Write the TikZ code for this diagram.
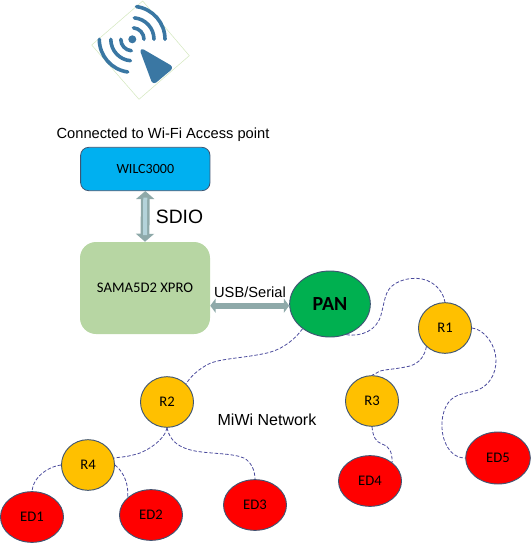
\documentclass[tikz,border=0pt]{standalone}
\usepackage{fontspec}
\setmainfont{Liberation Sans}
\newfontfamily\carl{Carlito}
\usetikzlibrary{arrows.meta,shapes.geometric}
\definecolor{wifi}{HTML}{3A77A3}
\definecolor{frameg}{HTML}{D5E8C0}
\definecolor{blueb}{HTML}{00B0F0}
\definecolor{greenb}{HTML}{B7D6A3}
\definecolor{pang}{HTML}{00B050}
\definecolor{amber}{HTML}{FFC000}
\definecolor{edge}{HTML}{3F5573}
\definecolor{net}{HTML}{4A4A9C}
\definecolor{arrowo}{HTML}{8EA9A9}
\definecolor{arrowi}{HTML}{B4D3DA}
\tikzset{x=0.75pt,y=-0.75pt,
 box/.style={draw=edge,line width=0.6pt,rounded corners=6pt,inner sep=0pt,font=\carl\fontsize{10.5pt}{12pt}\selectfont},
 soft/.style={fill=greenb,rounded corners=12pt,inner sep=0pt,font=\carl\fontsize{11pt}{13pt}\selectfont},
 router/.style={ellipse,draw=edge,line width=0.7pt,fill=amber,inner sep=0pt,minimum width=39.75pt,minimum height=38pt,font=\carl\fontsize{11pt}{13pt}\selectfont},
 enddev/.style={ellipse,draw=edge,line width=0.7pt,fill=red,inner sep=0pt,minimum width=47.25pt,minimum height=38pt,font=\carl\fontsize{11pt}{13pt}\selectfont},
 link/.style={draw=net,line width=0.6pt,dash pattern=on 2.6pt off 1.4pt},
 lab/.style={inner sep=0pt,font=\fontsize{11pt}{13pt}\selectfont},
 wave/.style={draw=wifi,line width=2.7pt,line cap=round},
 busouter/.style={draw=arrowo,line width=6.6pt,{Triangle[width=13.5pt,length=6pt]}-{Triangle[width=13.5pt,length=6pt]}},
 businner/.style={draw=arrowi,line width=3pt,shorten <=5pt,shorten >=5pt},
 usbbus/.style={draw=arrowo,line width=4.6pt,{Triangle[width=10.5pt,length=4pt]}-{Triangle[width=10.5pt,length=4pt]}},
}
\begin{document}
\begin{tikzpicture}
\useasboundingbox (0,0) rectangle (531,543);
% Wi-Fi icon
\draw[frameg,line width=0.4pt] (142.7,1) -- (189.3,55.7) -- (139,99.3) -- (91.7,45) -- cycle;
\fill[wifi] (132.3,39.3) circle[radius=4];
\draw[wave] (165,39.3) arc[start angle=0,end angle=-82,radius=33];
\draw[wave] (154,39.3) arc[start angle=0,end angle=-85,radius=21.5];
\draw[wave] (144,39.3) arc[start angle=0,end angle=-85,radius=11.5];
\draw[wave] (99.3,39.3) arc[start angle=180,end angle=98,radius=33];
\draw[wave] (110.8,39.3) arc[start angle=180,end angle=95,radius=21.5];
\draw[wave] (120.8,39.3) arc[start angle=180,end angle=95,radius=11.5];
\fill[wifi,draw=wifi,line width=2pt,line join=round,rounded corners=2pt] (141,49.5) -- (172,67.5) -- (153.5,83) -- cycle;
% blocks
\node[box,fill=blueb,minimum width=97pt,minimum height=32.5pt] (wilc) at (145.3,169) {WILC3000};
\node[soft,minimum width=97.5pt,minimum height=69pt] (sama) at (145,288) {SAMA5D2 XPRO};
\node[ellipse,draw=edge,line width=0.7pt,fill=pang,inner sep=0pt,minimum width=60.5pt,minimum height=49.5pt,font=\carl\bfseries\fontsize{15pt}{17pt}\selectfont] (pan) at (330,304) {PAN};
\node[router] (r1) at (445,328) {R1};
\node[router] (r2) at (167,402) {R2};
\node[router] (r3) at (372,401) {R3};
\node[router] (r4) at (88,465) {R4};
\node[enddev] (ed1) at (32,517) {ED1};
\node[enddev] (ed2) at (151,515) {ED2};
\node[enddev] (ed3) at (255,505) {ED3};
\node[enddev] (ed4) at (370,481) {ED4};
\node[enddev,minimum width=48.5pt,minimum height=39pt] (ed5) at (498,458) {ED5};
% texts
\node[lab] (conn) at (163,135) {Connected to Wi-Fi Access point};
\node[lab,font=\fontsize{14.5pt}{16pt}\selectfont] (sdio) at (179.5,217) {SDIO};
\node[lab] (usb) at (250,292) {USB/Serial};
\node[lab,font=\fontsize{12pt}{14pt}\selectfont] (miwi) at (267,420) {MiWi Network};
% buses
\draw[busouter] (wilc.south) -- (sama.north);
\draw[businner] (wilc.south) -- (sama.north);
\coordinate (samaE) at (sama.east |- 0,305.7);
\coordinate (panW) at (pan.west |- 0,305.7);
\draw[usbbus] (samaE) -- (panW);
% network links
\draw[link] (pan.222) .. controls (296,338) and (284,349) .. (267,353) .. controls (240,359) and (217,358) .. (205,366) .. controls (195,372) and (190,378) .. (r2.44);
\draw[link] (pan.298) .. controls (362,337) and (377,330) .. (381,315) .. controls (385,300) and (385,292) .. (392,286) .. controls (401,278) and (420,275) .. (432,283) .. controls (440,288) and (444,296) .. (r1.north);
\draw[link] (r1.225) .. controls (425,355) and (420,363) .. (410,366) .. controls (398,369) and (388,369) .. (380,371) .. controls (376,373) and (374,375) .. (r3.north);
\draw[link] (r1.east) .. controls (484,329) and (496,345) .. (496,360) .. controls (496,375) and (489,385) .. (478,390) .. controls (468,394) and (456,392) .. (448,403) .. controls (441,413) and (440,430) .. (445,442) .. controls (449,452) and (456,458) .. (ed5.west);
\draw[link] (r3.south) .. controls (373,437) and (376,442) .. (382,444) .. controls (391,447) and (392,454) .. (ed4.40);
\draw[link] (r2.south) .. controls (165,440) and (145,453) .. (133,455) .. controls (126,457) and (120,457) .. (r4.15);
\draw[link] (r2.south) .. controls (170,442) and (180,448) .. (195,451) .. controls (212,454) and (232,453) .. (244,458) .. controls (251,462) and (255,470) .. (ed3.north);
\draw[link] (r4.west) .. controls (50,466) and (33,476) .. (ed1.north);
\draw[link] (r4.east) .. controls (124,472) and (129,485) .. (ed2.143);
\end{tikzpicture}
\end{document}
